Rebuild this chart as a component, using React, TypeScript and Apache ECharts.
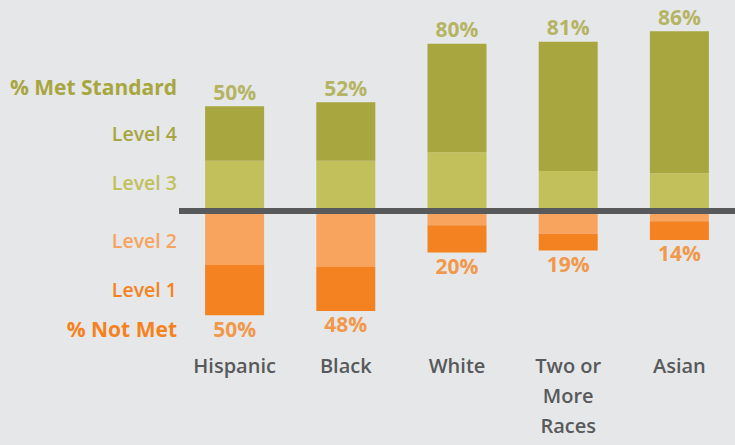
import React, { useEffect, useRef } from "react";
import * as echarts from "echarts";

const categories = ["Hispanic", "Black", "White", "Two or\nMore\nRaces", "Asian"];
const level4 = [26, 28, 52, 62, 68];
const level3 = [24, 24, 28, 19, 18];
const level2 = [26, 27, 7, 11, 5];
const level1 = [24, 21, 13, 8, 9];
const metTotals = [50, 52, 80, 81, 86];
const notMetTotals = [50, 48, 20, 19, 14];

const sideLabels = [
  { text: "% Met Standard", color: "#a8a63f", weight: 700, size: 21, y: 87 },
  { text: "Level 4", color: "#a8a63f", weight: 600, size: 19.5, y: 133 },
  { text: "Level 3", color: "#c2c05a", weight: 600, size: 19.5, y: 182 },
  { text: "Level 2", color: "#f8a45e", weight: 600, size: 19.5, y: 240 },
  { text: "Level 1", color: "#f58220", weight: 600, size: 19.5, y: 289 },
  { text: "% Not Met", color: "#f58220", weight: 700, size: 21, y: 329 },
];

const FONT = "'Open Sans', 'Noto Sans', sans-serif";

export default function App() {
  const ref = useRef<HTMLDivElement>(null);
  useEffect(() => {
    if (!ref.current) return;
    const chart = echarts.init(ref.current, null, { renderer: "svg" });
    const barW = 59;
    chart.setOption({
      animation: false,
      backgroundColor: "#e6e7e8",
      grid: { left: 179, width: 560, top: 2, height: 334 },
      xAxis: {
        type: "category",
        data: categories,
        axisLine: { show: false, onZero: false },
        axisTick: { show: false },
        axisLabel: {
          color: "#58595b",
          fontSize: 20,
          fontWeight: 600,
          fontFamily: FONT,
          lineHeight: 30,
          margin: 14,
          interval: 0,
        },
        splitLine: { show: false },
      },
      yAxis: { type: "value", min: -60, max: 100, show: false, splitLine: { show: false } },
      graphic: sideLabels.map((s) => ({
        type: "text",
        x: 177,
        y: s.y,
        style: {
          text: s.text,
          fill: s.color,
          fontSize: s.size,
          fontWeight: s.weight,
          fontFamily: FONT,
          align: "right",
          verticalAlign: "middle",
        },
      })),
      series: [
        {
          name: "Level 3",
          type: "bar",
          stack: "a",
          barWidth: barW,
          data: level3,
          itemStyle: { color: "#c2c05a" },
          markLine: {
            silent: true,
            symbol: ["none", "none"],
            label: { show: false },
            lineStyle: { color: "#58595b", width: 6, type: "solid" },
            data: [{ yAxis: 0 }],
            z: 10,
          },
        },
        { name: "Level 4", type: "bar", stack: "a", barWidth: barW, data: level4, itemStyle: { color: "#a8a63f" } },
        { name: "Level 2", type: "bar", stack: "a", barWidth: barW, data: level2.map((v) => -v), itemStyle: { color: "#f8a45e" } },
        { name: "Level 1", type: "bar", stack: "a", barWidth: barW, data: level1.map((v) => -v), itemStyle: { color: "#f58220" } },
        {
          name: "Met",
          type: "scatter",
          symbolSize: 0,
          data: metTotals,
          label: {
            show: true,
            position: "top",
            distance: 4,
            formatter: (p: any) => `${metTotals[p.dataIndex]}%`,
            color: "#a8a63f",
            fontSize: 21,
            fontWeight: 700,
            fontFamily: FONT,
          },
        },
        {
          name: "Not Met",
          type: "scatter",
          symbolSize: 0,
          data: notMetTotals.map((v) => -v),
          label: {
            show: true,
            position: "bottom",
            distance: 3,
            formatter: (p: any) => `${notMetTotals[p.dataIndex]}%`,
            color: "#f58220",
            fontSize: 21,
            fontWeight: 700,
            fontFamily: FONT,
          },
        },
      ],
    });
    return () => chart.dispose();
  }, []);
  return (
    <div
      ref={ref}
      style={{ position: "fixed", left: 0, top: 0, width: 735, height: 445 }}
    />
  );
}
